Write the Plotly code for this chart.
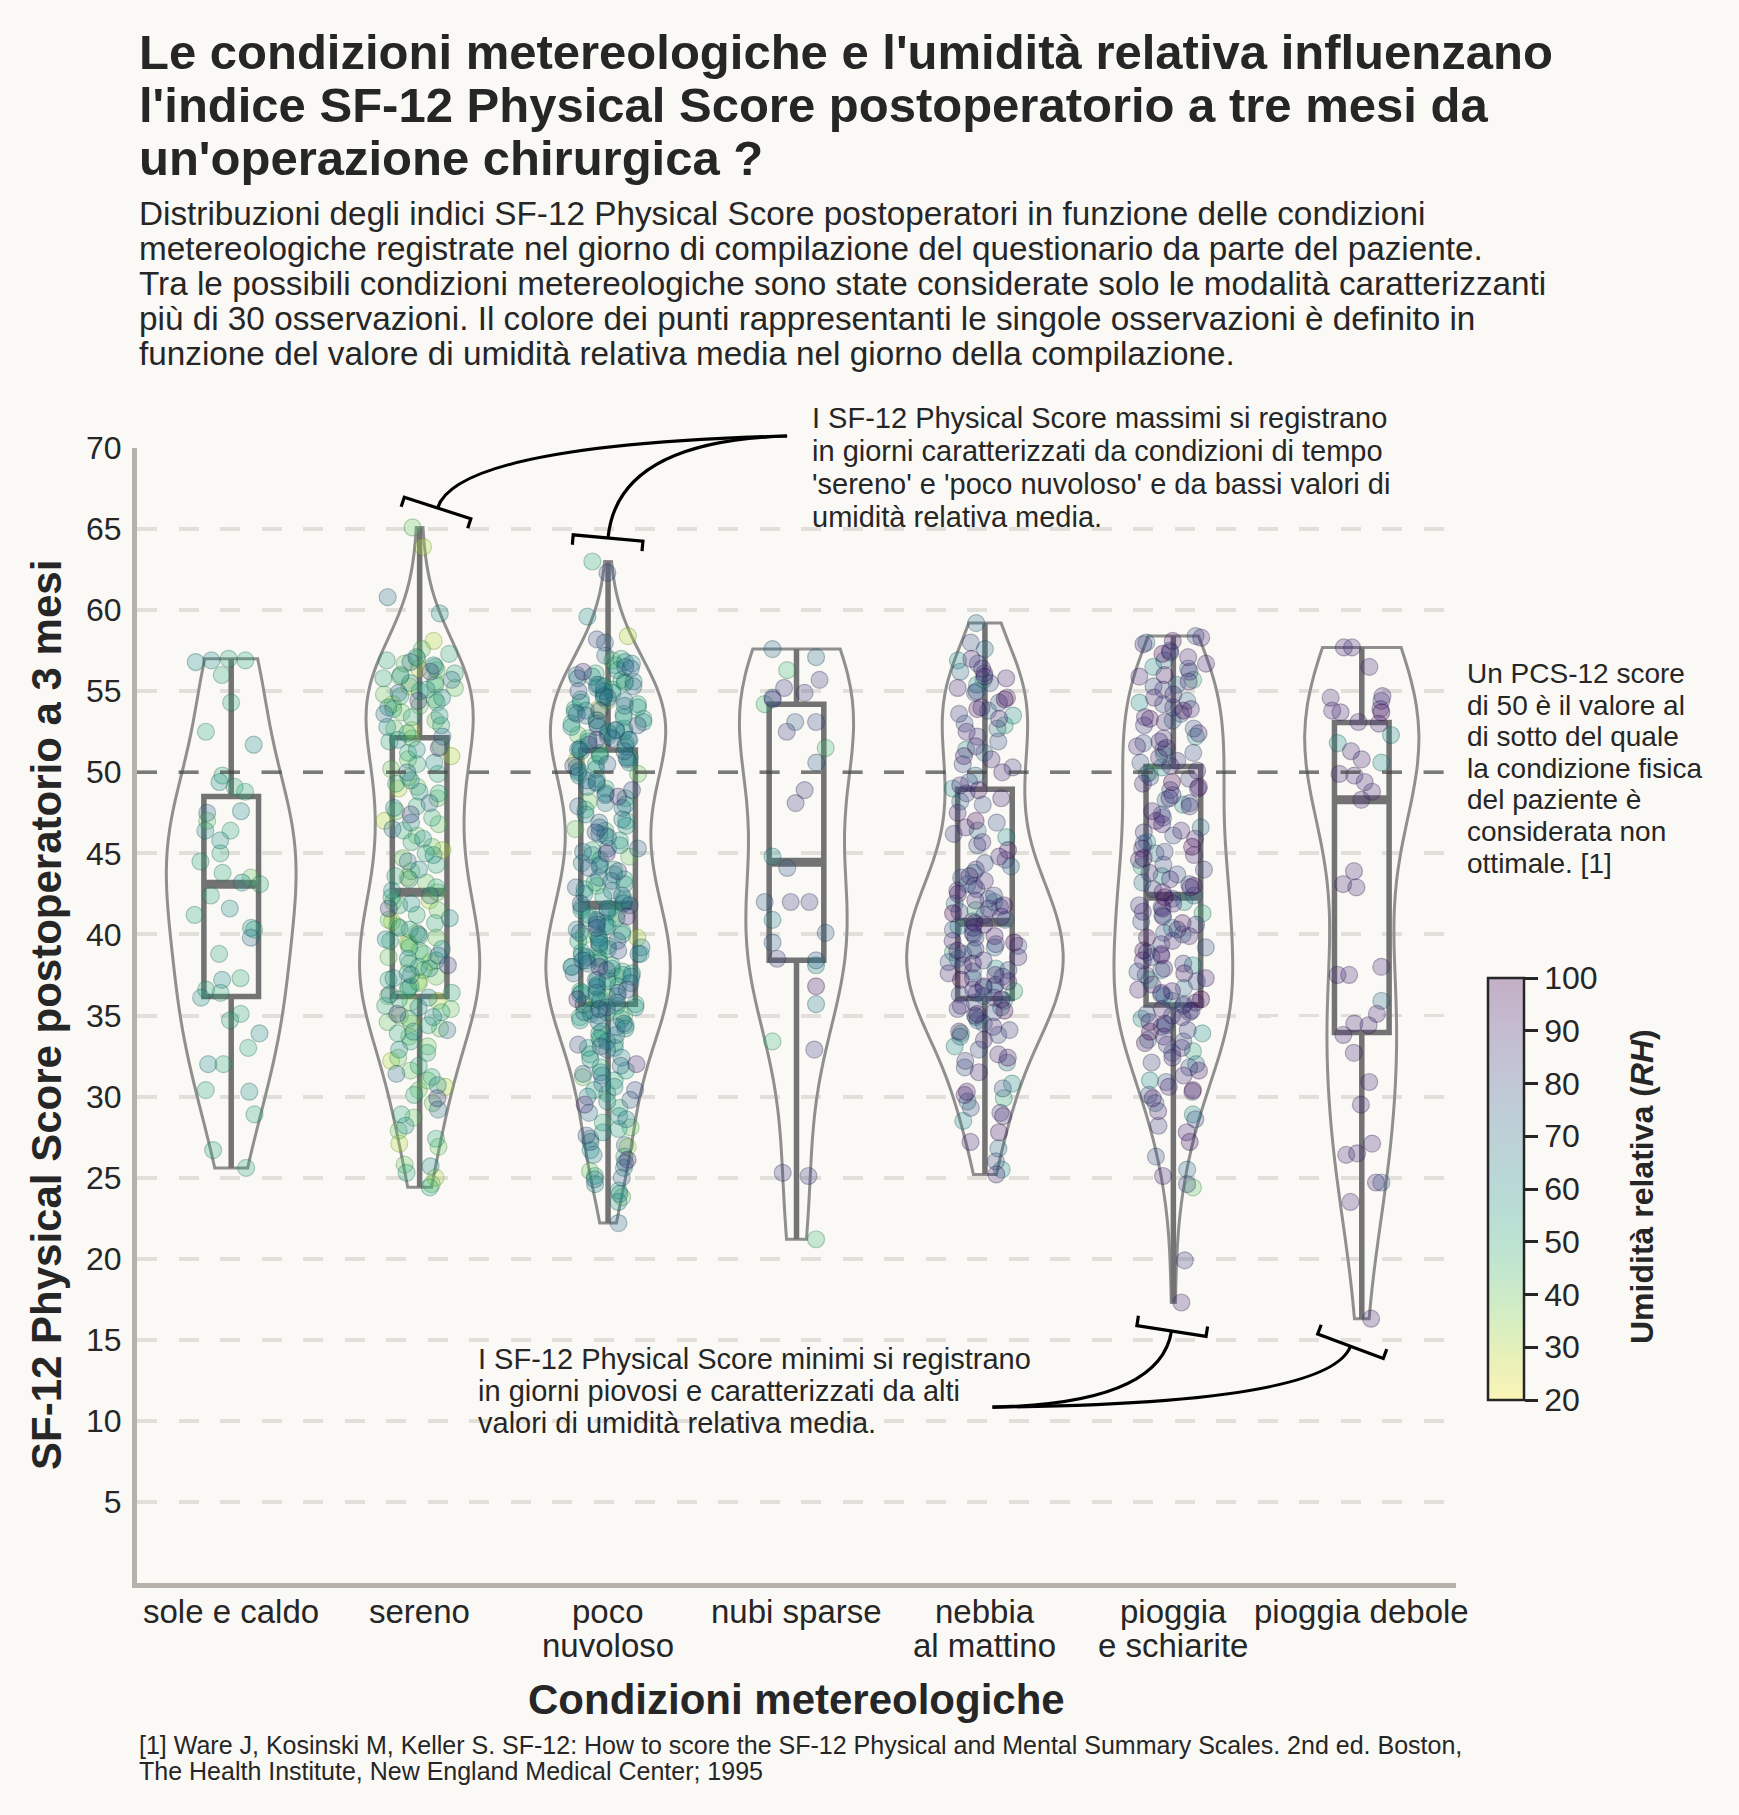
import numpy as np
import plotly.graph_objects as go
from plotly.colors import sample_colorscale, unlabel_rgb

FONT = "Liberation Sans, Arial, Helvetica, sans-serif"
BG = "#faf9f5"
BG_RGB = (250, 249, 245)
TXT = "#262626"

# ---------------- data ----------------
categories = ["sole e caldo", "sereno", "poco nuvoloso", "nubi sparse",
              "nebbia al mattino", "pioggia e schiarite", "pioggia debole"]
tick_labels = [["sole e caldo"], ["sereno"], ["poco", "nuvoloso"], ["nubi sparse"],
               ["nebbia", "al mattino"], ["pioggia", "e schiarite"], ["pioggia debole"]]

# SF-12 Physical Score values grouped by mean relative humidity (%) of the day
sole_e_caldo = {
    40: [47.0, 43.5],
    50: [57.0, 56.9, 56.0, 54.3, 52.5, 49.8, 49.1, 48.8, 46.4, 45.0, 44.5, 43.8, 43.1, 42.4,
         41.2, 40.3, 38.8, 37.3, 36.6, 36.4, 35.1, 34.7, 33.0, 32.0, 30.4, 28.9, 26.7, 25.6],
    60: [56.9, 56.8, 51.7, 49.4, 47.6, 46.4, 45.8, 43.2, 41.6, 40.4, 37.2, 36.1, 33.9, 32.0, 30.3],
    70: [47.5, 39.8],
}
sereno = {
    30: [63.9, 58.1, 56.4, 55.3, 54.2, 52.6, 51.0, 49.0, 47.0, 45.2, 43.5, 42.1, 40.8, 39.5,
         38.3, 37.1, 35.9, 34.5, 32.2, 30.6, 27.1, 25.0],
    40: [65.1, 57.6, 57.0, 56.7, 56.3, 55.9, 55.6, 55.2, 54.8, 54.5, 54.1, 53.7, 53.2, 52.7,
         52.1, 51.6, 50.8, 50.2, 49.7, 49.1, 48.4, 47.6, 46.8, 46.1, 45.4, 44.7, 43.9, 43.2,
         42.6, 42.0, 41.5, 40.9, 40.5, 40.1, 39.8, 39.4, 39.0, 38.6, 38.2, 37.8, 37.4, 37.0,
         36.6, 36.2, 35.8, 35.4, 35.0, 34.6, 34.2, 33.7, 33.1, 32.4, 31.6, 31.0, 30.4, 29.6,
         28.7, 27.9, 26.9, 25.8, 24.6],
    50: [57.3, 56.9, 56.5, 56.1, 55.8, 55.4, 55.0, 54.7, 54.3, 53.9, 53.4, 52.9, 52.4, 51.9,
         51.2, 50.5, 49.9, 49.3, 48.7, 47.9, 47.2, 46.4, 45.7, 45.0, 44.3, 43.6, 42.9, 42.3,
         41.8, 41.2, 40.7, 40.3, 39.9, 39.6, 39.2, 38.8, 38.4, 38.0, 37.6, 37.2, 36.8, 36.4,
         36.0, 35.6, 35.2, 34.8, 34.4, 33.9, 33.4, 32.7, 31.9, 31.2, 30.1, 28.9, 27.4, 25.3, 24.4],
    60: [59.8, 57.1, 56.6, 56.0, 55.5, 55.1, 54.6, 54.0, 53.5, 52.8, 52.0, 51.4, 50.6, 49.5,
         48.8, 47.8, 46.9, 45.9, 44.9, 44.0, 43.4, 42.7, 41.9, 41.0, 40.4, 39.7, 39.1, 38.5,
         37.9, 37.3, 36.7, 36.1, 35.5, 34.9, 34.0, 32.9, 30.7, 28.2, 25.7],
    70: [60.8, 56.8, 55.7, 54.9, 53.6, 52.2, 50.0, 48.1, 46.5, 44.5, 42.4, 40.0, 38.7, 37.5,
         36.3, 34.1, 31.4, 29.2],
    85: [56.2, 54.4, 51.5, 47.4, 41.6, 38.1, 35.1, 29.9],
}
poco_nuvoloso = {
    30: [58.4, 53.9, 50.7, 39.8, 35.6, 26.9],
    40: [56.9, 55.6, 54.4, 53.2, 52.3, 51.1, 49.9, 48.2, 46.5, 44.8, 43.0, 41.3, 39.9, 38.6,
         37.4, 36.2, 35.0, 33.5, 31.2, 28.1, 25.4, 23.8],
    50: [63.0, 57.0, 56.6, 56.1, 55.7, 55.4, 55.1, 54.8, 54.5, 54.2, 53.9, 53.6, 53.3, 53.0,
         52.7, 52.4, 52.1, 51.8, 51.5, 51.2, 50.9, 50.5, 50.1, 49.6, 49.0, 48.4, 47.7, 47.0,
         46.4, 45.8, 45.2, 44.6, 44.0, 43.4, 42.8, 42.2, 41.7, 41.2, 40.7, 40.2, 39.7, 39.3,
         38.9, 38.5, 38.1, 37.7, 37.3, 36.9, 36.5, 36.1, 35.7, 35.3, 34.9, 34.4, 33.9, 33.3,
         32.6, 31.8, 31.0, 30.2, 29.3, 28.4, 27.4, 26.3, 25.1, 24.2],
    55: [55.3, 52.5, 43.2, 42.3, 41.6, 41.0, 40.5, 40.0, 39.6, 39.2, 38.8, 38.4, 38.0, 37.6,
         37.2, 36.8, 36.4, 36.0, 35.6, 35.2, 34.8, 34.0, 33.0, 31.6, 30.4, 28.0],
    60: [59.6, 56.8, 56.3, 55.9, 55.5, 55.2, 54.9, 54.6, 54.3, 54.0, 53.7, 53.4, 53.1, 52.8,
         52.5, 52.2, 51.9, 51.6, 51.3, 51.0, 50.6, 50.2, 49.8, 49.3, 48.7, 48.0, 47.4, 46.7,
         46.1, 45.5, 44.9, 44.3, 43.7, 43.1, 42.5, 42.0, 41.5, 41.0, 40.5, 40.0, 39.5, 39.1,
         38.7, 38.3, 37.9, 37.5, 37.1, 36.7, 36.3, 35.9, 35.5, 35.1, 34.7, 34.2, 33.6, 33.0,
         32.3, 31.5, 30.6, 29.7, 28.8, 27.8, 26.7, 25.6, 24.6, 23.5],
    65: [56.7, 56.0, 55.6, 55.0, 54.4, 53.8, 53.2, 52.6, 52.0, 51.4, 50.9, 50.0, 49.1, 48.1,
         47.1, 46.2, 45.3, 44.4, 43.5, 42.7, 41.9, 41.4, 40.9, 40.3, 39.8, 39.2, 38.6, 38.0,
         37.4, 36.8, 36.2, 35.7, 35.0, 34.3, 33.4, 32.4, 31.3, 30.0, 28.6, 26.4, 24.0],
    70: [57.2, 56.4, 55.8, 55.3, 54.7, 54.1, 53.5, 53.0, 52.6, 52.0, 51.4, 50.8, 50.3, 49.5,
         48.6, 47.8, 46.9, 46.0, 45.1, 44.2, 43.3, 42.4, 41.6, 40.8, 40.1, 39.4, 38.8, 38.2,
         37.6, 37.0, 36.4, 35.8, 35.2, 34.6, 33.8, 32.9, 31.9, 30.8, 29.0, 27.0, 24.9, 22.2],
    75: [58.0, 56.5, 55.4, 54.6, 53.6, 52.8, 52.1, 51.3, 50.5, 49.4, 47.9, 46.6, 45.3, 44.1,
         42.9, 41.8, 40.6, 39.6, 38.4, 37.2, 36.4, 35.5, 34.5, 33.1, 31.4, 29.8, 27.2, 25.0],
    80: [62.3, 58.2, 55.0, 53.8, 52.9, 51.7, 50.4, 48.9, 46.3, 43.9, 41.9, 40.4, 39.0, 37.8,
         36.6, 35.4, 33.2, 30.4, 27.6, 25.9],
    90: [56.2, 52.0, 48.5, 45.0, 41.1, 38.0, 36.0, 32.0, 29.5, 26.1],
}
nubi_sparse = {
    45: [56.3, 54.2, 51.5, 33.4, 21.2],
    60: [44.8, 38.1],
    65: [40.9, 35.7],
    70: [57.6, 57.1],
    75: [53.1, 50.6, 44.1, 42.0, 40.1, 39.5, 38.4],
    80: [54.6, 53.1],
    85: [55.7, 55.2, 54.9, 54.5, 52.5, 48.9, 48.1, 42.0, 42.0, 38.5, 32.9, 25.1, 25.3],
    95: [36.8],
}
nebbia_al_mattino = {
    50: [55.7, 52.9, 41.5, 38.9, 36.5, 33.9, 29.9],
    60: [56.9, 55.4, 53.5, 51.4, 49.0, 46.0, 43.8, 42.0, 40.5, 39.0, 37.9, 36.7, 35.9, 34.9,
         33.1, 30.8, 28.5, 25.5],
    70: [59.2, 57.6, 56.2, 55.0, 53.8, 52.7, 51.2, 49.8, 48.2, 46.4, 44.2, 43.1, 41.9, 40.9,
         40.0, 39.2, 38.5, 37.7, 36.9, 36.2, 35.5, 34.7, 33.7, 32.1, 29.7, 26.8],
    80: [58.0, 56.7, 55.5, 54.3, 53.0, 51.9, 50.5, 49.4, 48.0, 46.9, 45.5, 44.4, 43.5, 42.8,
         42.2, 41.7, 41.2, 40.8, 40.3, 39.8, 39.3, 38.8, 38.3, 37.8, 37.3, 36.8, 36.3, 35.8,
         35.2, 34.5, 33.8, 32.9, 31.8, 30.5, 29.3, 26.0],
    85: [56.1, 54.9, 53.6, 52.2, 50.3, 48.7, 46.2, 44.6, 43.0, 42.4, 41.4, 40.4, 39.4, 38.4,
         37.4, 36.4, 35.4, 34.1, 32.2, 29.0],
    90: [57.0, 56.4, 55.8, 55.2, 54.6, 54.0, 53.3, 52.5, 51.6, 50.8, 50.0, 49.2, 48.4, 47.5,
         46.6, 45.7, 44.8, 44.0, 43.3, 42.7, 42.1, 41.6, 41.1, 40.6, 40.1, 39.6, 39.1, 38.6,
         38.1, 37.6, 37.1, 36.6, 36.1, 35.6, 35.0, 34.3, 33.5, 32.6, 31.5, 30.1, 28.8, 27.2, 25.2],
    95: [55.9, 53.9, 51.0, 48.9, 45.2, 43.6, 42.5, 41.8, 40.7, 39.9, 39.0, 38.2, 37.5, 36.8,
         36.0, 35.1, 34.0, 32.4, 30.3, 27.8],
    100: [54.5, 47.0, 41.3, 39.5, 37.2, 35.3],
}
pioggia_e_schiarite = {
    40: [50.0, 24.4],
    50: [55.7, 51.1, 44.2, 41.3, 37.2, 32.8],
    60: [56.5, 54.3, 52.2, 50.3, 48.0, 45.7, 43.6, 42.0, 40.4, 38.1, 36.2, 34.8, 33.9, 31.0, 28.9],
    70: [58.0, 56.9, 55.4, 54.4, 53.2, 51.4, 49.9, 48.3, 46.6, 45.0, 43.2, 42.4, 41.2, 40.0,
         38.9, 37.8, 36.7, 35.9, 35.2, 34.4, 33.5, 32.0, 29.6, 25.5],
    80: [58.4, 57.5, 56.4, 55.3, 54.2, 53.6, 52.7, 51.8, 51.2, 50.6, 49.7, 48.9, 48.1, 47.2,
         46.1, 45.6, 44.3, 43.7, 43.1, 42.2, 41.7, 40.8, 40.1, 39.2, 38.6, 37.7, 37.1, 36.3,
         35.6, 35.1, 34.3, 33.4, 32.7, 31.8, 30.9, 30.1, 28.6, 26.3, 24.6],
    85: [57.4, 56.2, 55.1, 54.0, 52.9, 52.1, 50.7, 49.6, 48.6, 47.4, 46.3, 45.1, 44.0, 42.8,
         41.8, 40.6, 39.4, 38.2, 37.5, 36.4, 35.7, 35.0, 34.1, 33.2, 32.1, 30.3, 28.2, 19.9],
    90: [58.3, 57.9, 57.1, 56.7, 55.9, 55.6, 54.8, 54.6, 53.9, 53.4, 53.1, 52.4, 51.9, 51.6,
         50.9, 50.4, 50.1, 49.3, 49.0, 48.4, 47.9, 47.6, 46.8, 46.4, 45.9, 45.3, 44.9, 44.6,
         43.8, 43.4, 42.9, 42.6, 41.9, 41.4, 41.1, 40.3, 39.9, 39.6, 38.8, 38.4, 37.9, 37.3,
         36.9, 36.6, 35.8, 35.4, 34.9, 34.6, 33.7, 33.0, 32.4, 31.3, 30.6, 29.1, 27.8, 25.1, 17.3],
    95: [58.1, 56.0, 53.3, 51.5, 49.1, 47.0, 44.7, 43.0, 41.6, 40.7, 39.8, 38.7, 37.6, 36.5,
         35.3, 34.5, 33.3, 31.6, 29.9, 27.2],
    100: [57.3, 53.8, 49.4, 45.4, 42.3, 39.0, 36.0, 34.0, 30.4],
}
pioggia_debole = {
    60: [52.3, 51.8, 50.6],
    70: [35.9],
    75: [24.7],
    85: [54.4],
    90: [57.7, 57.7, 56.5, 54.7, 54.6, 53.9, 53.8, 53.7, 53.1, 53.0, 51.3, 50.8, 49.9, 49.8,
         49.4, 48.8, 48.3, 43.9, 43.1, 42.9, 38.0, 37.5, 37.5, 35.1, 34.5, 34.4, 33.8, 32.7,
         30.9, 29.5, 27.1, 26.5, 26.4, 24.7, 23.5, 16.3],
    100: [53.7],
}
conditions = [sole_e_caldo, sereno, poco_nuvoloso, nubi_sparse,
              nebbia_al_mattino, pioggia_e_schiarite, pioggia_debole]

y_ticks = list(range(5, 75, 5))
rh_ticks = list(range(20, 110, 10))
RH_MIN, RH_MAX = 20, 100
REF_SCORE = 50

title_lines = ["Le condizioni metereologiche e l'umidità relativa influenzano",
               "l'indice SF-12 Physical Score postoperatorio a tre mesi da",
               "un'operazione chirurgica ?"]
subtitle_lines = [
    "Distribuzioni degli indici SF-12 Physical Score postoperatori in funzione delle condizioni",
    "metereologiche registrate nel giorno di compilazione del questionario da parte del paziente.",
    "Tra le possibili condizioni metereologiche sono state considerate solo le modalità caratterizzanti",
    "più di 30 osservazioni. Il colore dei punti rappresentanti le singole osservazioni è definito in",
    "funzione del valore di umidità relativa media nel giorno della compilazione."]
note_max = ["I SF-12 Physical Score massimi si registrano",
            "in giorni caratterizzati da condizioni di tempo",
            "'sereno' e 'poco nuvoloso' e da bassi valori di",
            "umidità relativa media."]
note_min = ["I SF-12 Physical Score minimi si registrano",
            "in giorni piovosi e caratterizzati da alti",
            "valori di umidità relativa media."]
note_ref = ["Un PCS-12 score", "di 50 è il valore al", "di sotto del quale",
            "la condizione fisica", "del paziente è", "considerata non", "ottimale. [1]"]
footer_lines = ["[1] Ware J, Kosinski M, Keller S. SF-12: How to score the SF-12 Physical and Mental Summary Scales. 2nd ed. Boston,",
                "The Health Institute, New England Medical Center; 1995"]

# ---------------- geometry ----------------
W, H = 1739, 1815
L, R, T, B = 137, 1456, 448, 1583
X_RANGE = (-0.5, 6.5)
Y_RANGE = (0, 70)


def px(x):
    return (x - L) / (R - L)


def py(y):
    return (B - y) / (B - T)


def data_to_px(xd, yd):
    return (L + (xd - X_RANGE[0]) / (X_RANGE[1] - X_RANGE[0]) * (R - L),
            B - (yd - Y_RANGE[0]) / (Y_RANGE[1] - Y_RANGE[0]) * (B - T))


def viridis_r(rh):
    t = min(max((rh - RH_MIN) / (RH_MAX - RH_MIN), 0), 1)
    return unlabel_rgb(sample_colorscale("Viridis_r", [t])[0])


def blend(c, a=0.3):
    return "rgb(%d,%d,%d)" % tuple(round(a * ci + (1 - a) * bi) for ci, bi in zip(c, BG_RGB))


fig = go.Figure()

# ---------------- traces ----------------
scores = [np.array([v for rh in g for v in g[rh]], dtype=float) for g in conditions]
bws, peaks = [], []
for ys in scores:
    bw = ys.std(ddof=1) * len(ys) ** -0.2
    grid = np.linspace(ys.min(), ys.max(), 512)
    dens = np.exp(-0.5 * ((grid[:, None] - ys[None, :]) / bw) ** 2).sum(1) / (len(ys) * bw * np.sqrt(2 * np.pi))
    bws.append(bw)
    peaks.append(dens.max())
pmax = max(peaks)

BOX_W = 0.29
for i, (cat, groups, ys) in enumerate(zip(categories, conditions, scores)):
    fig.add_trace(go.Violin(
        x=[cat] * len(ys), y=ys, width=0.83 * peaks[i] / pmax, bandwidth=bws[i],
        spanmode="hard", scalemode="width", points=False,
        line=dict(color="#8f8f8f", width=3), fillcolor="rgba(0,0,0,0)",
        hoverinfo="skip", showlegend=False))
    fig.add_trace(go.Box(
        x=[cat] * len(ys), y=ys, width=BOX_W, boxpoints=False, whiskerwidth=0,
        line=dict(color="#737373", width=5.5), fillcolor="rgba(0,0,0,0)",
        hoverinfo="skip", showlegend=False))
    for rh, vals in groups.items():
        r, g, b = viridis_r(rh)
        fig.add_trace(go.Box(
            x=[cat] * len(vals), y=vals, width=0.4, boxpoints="all", jitter=1, pointpos=0,
            whiskerwidth=0, line=dict(color="rgba(0,0,0,0)", width=0),
            fillcolor="rgba(0,0,0,0)",
            marker=dict(size=17, color=f"rgba({r:.0f},{g:.0f},{b:.0f},0.28)",
                        line=dict(color=f"rgba({0.6*r:.0f},{0.6*g:.0f},{0.6*b:.0f},0.32)", width=1.2)),
            name=f"{cat} RH {rh}%", hoverinfo="y", showlegend=False))
    med = float(np.median(ys))
    fig.add_shape(type="line", xref="x", yref="y", x0=i - BOX_W / 2, x1=i + BOX_W / 2,
                  y0=med, y1=med, line=dict(color="#737373", width=9), layer="between")

# colorbar
cb_scale = [[k / 20, blend(viridis_r(RH_MIN + (RH_MAX - RH_MIN) * k / 20))] for k in range(21)]
fig.add_trace(go.Scatter(
    x=[None], y=[None], mode="markers", showlegend=False, hoverinfo="skip",
    marker=dict(color=[RH_MIN], cmin=RH_MIN, cmax=RH_MAX, colorscale=cb_scale, showscale=True,
                colorbar=dict(x=px(1488), xanchor="left", xpad=0, y=py(1189), yanchor="middle",
                              ypad=0, len=422, lenmode="pixels", thickness=36,
                              thicknessmode="pixels", outlinewidth=2.5, outlinecolor="#262626",
                              tickvals=rh_ticks, ticks="outside", ticklen=13, tickwidth=2.5,
                              tickcolor="#262626", tickfont=dict(size=32, color=TXT, family=FONT)))))

# reference line at 50
fig.add_shape(type="line", xref="paper", x0=0, x1=1, yref="y", y0=REF_SCORE, y1=REF_SCORE,
              line=dict(color="rgba(60,60,60,0.62)", width=3.5, dash="20px,21.5px"), layer="above")

# ---------------- callouts (data coordinates: category position, score) ----------------
callouts = [
    # text anchor, control, bracket position
    ((2.95, 70.74), (1.204, 70.19), (1.095, 66.3)),
    ((2.95, 70.74), (2.047, 70.43), (2.0, 64.45)),
    ((4.04, 10.85), (4.93, 11.04), (4.99, 15.54)),
    ((4.04, 10.85), (5.826, 11.04), (5.94, 14.6)),
]


def P(p):
    return f"{px(p[0]):.5f},{py(p[1]):.5f}"


for a, c, e in callouts:
    a, c, e = data_to_px(*a), data_to_px(*c), data_to_px(*e)
    fig.add_shape(type="path", xref="paper", yref="paper", layer="above",
                  path=f"M{P(a)} Q{P(c)} {P(e)}", line=dict(color="black", width=3.2))
    dx, dy = e[0] - c[0], e[1] - c[1]
    n = np.hypot(dx, dy)
    dx, dy = dx / n, dy / n
    qx, qy = -dy, dx
    hw, tl = 35, 10
    e1 = (e[0] + hw * qx, e[1] + hw * qy)
    e2 = (e[0] - hw * qx, e[1] - hw * qy)
    t1 = (e1[0] + tl * dx, e1[1] + tl * dy)
    t2 = (e2[0] + tl * dx, e2[1] + tl * dy)
    fig.add_shape(type="path", xref="paper", yref="paper", layer="above",
                  path=f"M{P(t1)} L{P(e1)} L{P(e2)} L{P(t2)}", line=dict(color="black", width=3.2))


# ---------------- text ----------------
def add_lines(lines, x, y0, dy, size, bold=False):
    for k, s in enumerate(lines):
        fig.add_annotation(text=f"<b>{s}</b>" if bold else s, x=px(x), y=py(y0 + k * dy),
                           xref="paper", yref="paper", xanchor="left", yanchor="middle",
                           showarrow=False, font=dict(size=size, color=TXT, family=FONT))


add_lines(title_lines, 137, 52, 52.75, 49, bold=True)
add_lines(subtitle_lines, 137, 213.5, 35, 33.3)
add_lines(note_max, 810, 417.5, 33.2, 29)
add_lines(note_min, 476, 1359, 32, 29)
add_lines(note_ref, 1465, 673.5, 31.6, 28)
add_lines(footer_lines, 137, 1744.5, 26.5, 25)

# category labels under the x axis
for i, lines in enumerate(tick_labels):
    for k, s in enumerate(lines):
        fig.add_annotation(text=s, x=i, xref="x", y=py(1611 + k * 34), yref="paper",
                           xanchor="center", yanchor="middle", showarrow=False,
                           font=dict(size=33, color=TXT, family=FONT))

fig.add_annotation(text="<b>Condizioni metereologiche</b>", x=px((L + R) / 2), y=py(1699.5),
                   xref="paper", yref="paper", xanchor="center", yanchor="middle",
                   showarrow=False, font=dict(size=42, color=TXT, family=FONT))
fig.add_annotation(text="<b>SF-12 Physical Score postoperatorio a 3 mesi</b>", x=px(46), y=py(1015),
                   xref="paper", yref="paper", xanchor="center", yanchor="middle", textangle=-90,
                   showarrow=False, font=dict(size=42, color=TXT, family=FONT))
fig.add_annotation(text="<b>Umidità relativa (<i>RH</i>)</b>", x=px(1642), y=py(1187),
                   xref="paper", yref="paper", xanchor="center", yanchor="middle", textangle=-90,
                   showarrow=False, font=dict(size=32, color=TXT, family=FONT))

# ---------------- layout ----------------
fig.update_layout(
    width=W, height=H, margin=dict(l=L, r=W - R, t=T, b=H - B, autoexpand=False),
    paper_bgcolor=BG, plot_bgcolor=BG, boxmode="overlay", violinmode="overlay",
    showlegend=False, font=dict(family=FONT, color=TXT))
fig.update_xaxes(type="category", categoryorder="array", categoryarray=categories,
                 range=list(X_RANGE), showticklabels=False,
                 showgrid=False, zeroline=False, showline=True, linecolor="#b7b1ac", linewidth=5,
                 ticks="", automargin=False)
fig.update_yaxes(range=list(Y_RANGE), tickvals=y_ticks, showgrid=True, gridcolor="#e0dfda",
                 gridwidth=3.5, griddash="20px,21.5px", zeroline=False, showline=True,
                 linecolor="#b7b1ac", linewidth=5, ticks="",
                 tickfont=dict(size=32, color=TXT, family=FONT), ticklabelstandoff=4,
                 automargin=False)

fig.write_html("out.html")
